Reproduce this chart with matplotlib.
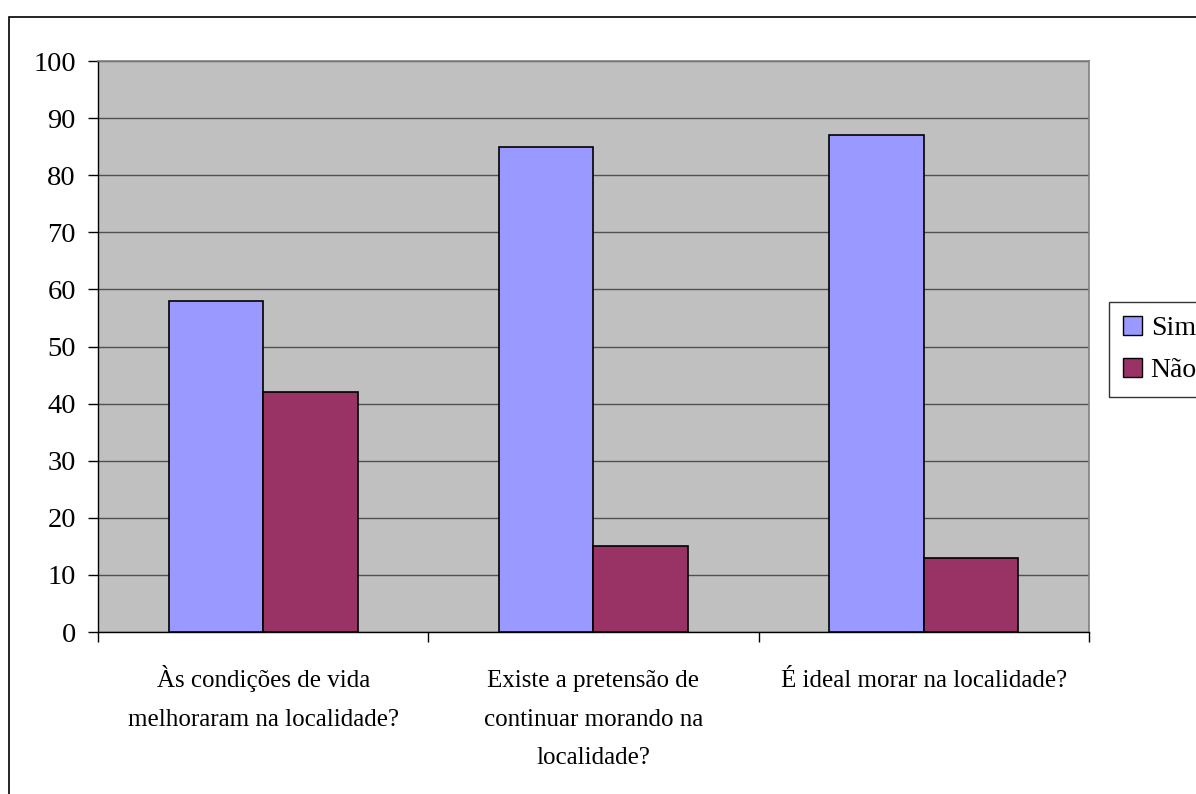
import matplotlib
matplotlib.use("Agg")
import matplotlib.pyplot as plt
import numpy as np
from matplotlib.patches import Rectangle, Patch
from matplotlib.transforms import ScaledTranslation

categories = ["Às condições de vida\nmelhoraram na localidade?",
              "Existe a pretensão de\ncontinuar morando na\nlocalidade?",
              "É ideal morar na localidade?"]
series_names = ["Sim", "Não"]
sim = [58, 85, 87]
nao = [42, 15, 13]
yticks = [0, 10, 20, 30, 40, 50, 60, 70, 80, 90, 100]

W, H = 1196, 794
fig = plt.figure(figsize=(W/100, H/100), dpi=100)
plt.rcParams['font.family'] = ['Liberation Serif', 'DejaVu Serif']

# outer chart border (clipped at right/bottom as in reference)
fig.patches.append(Rectangle((9/W, -0.05), 1.2, 1 - 17/H + 0.05, transform=fig.transFigure,
                             fill=False, edgecolor='black', linewidth=1.2))

ax = fig.add_axes([98/W, 1 - 632/H, (1089-98)/W, (632-61)/H])
ax.set_facecolor('#C0C0C0')
x = np.arange(len(categories))
w = 1/3.5
ax.bar(x - w/2, sim, w, color='#9999FF', edgecolor='black', linewidth=1.2, zorder=3)
ax.bar(x + w/2, nao, w, color='#993366', edgecolor='black', linewidth=1.2, zorder=3)
ax.set_xlim(-0.5, len(categories) - 0.5)
ax.set_ylim(0, 100)
ax.set_yticks(yticks)
ax.set_yticklabels([str(v) for v in yticks], fontsize=20.5)
ax.yaxis.grid(True, color='#505050', linewidth=1.0, zorder=1)
ax.set_axisbelow(True)
ax.set_xticks(np.arange(len(categories) + 1) - 0.5)
ax.set_xticklabels([])
ax.tick_params(axis='x', direction='out', length=7, width=1, color='black')
ax.tick_params(axis='y', direction='out', length=7, width=1, color='black', pad=9)
for s in ['top', 'right']:
    ax.spines[s].set_color('#808080')
    ax.spines[s].set_linewidth(1.2)
for s in ['left', 'bottom']:
    ax.spines[s].set_color('black')
    ax.spines[s].set_linewidth(1.0)

base = ax.get_xaxis_transform()
for i, lab in enumerate(categories):
    for k, line in enumerate(lab.split("\n")):
        off = ScaledTranslation(0, -(55 + 38.5 * k) / 100, fig.dpi_scale_trans)
        ax.text(i, 0, line, transform=base + off, ha='center', va='baseline', fontsize=18)

handles = [Patch(facecolor='#9999FF', edgecolor='black', label='Sim'),
           Patch(facecolor='#993366', edgecolor='black', label='Não')]
leg = fig.legend(handles=handles, loc='upper left', bbox_to_anchor=(1109/W, 1 - 302/H),
                 fontsize=20, frameon=True, fancybox=False, edgecolor='black',
                 handlelength=0.7, handleheight=0.7, handletextpad=0.3,
                 borderpad=0.5, labelspacing=0.6, borderaxespad=0)
leg.get_frame().set_linewidth(1.0)

fig.savefig("out.png", dpi=100)
